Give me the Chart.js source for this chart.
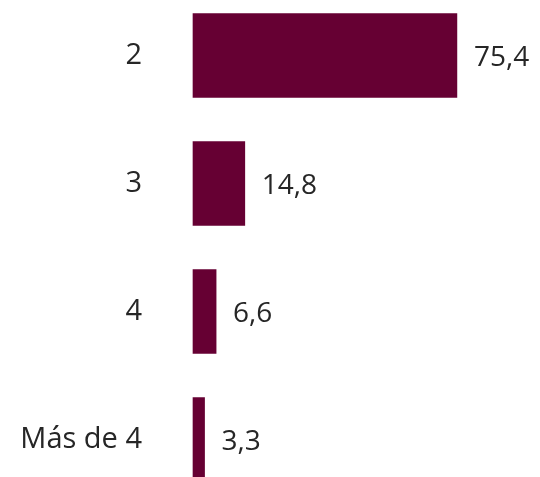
<!DOCTYPE html>
<html>
<head>
<meta charset="utf-8">
<script src="https://cdn.jsdelivr.net/npm/chart.js@4"></script>
<style>
  html, body { margin: 0; padding: 0; background: #fff; }
  #wrap { width: 540px; height: 477px; }
</style>
</head>
<body>
<div id="wrap"><canvas id="chart"></canvas></div>
<script>
// Categories and values
const categories = ['2', '3', '4', 'Más de 4'];
const values = [75.4, 14.8, 6.6, 3.3];

const barColor = '#660033';
const textColor = '#262626';
const fontFamily = '"Open Sans", Lato, sans-serif';

// Draws the value at the end of each bar, with a comma as decimal mark
const valueLabels = {
  id: 'valueLabels',
  afterDatasetsDraw(chart) {
    const ctx = chart.ctx;
    const meta = chart.getDatasetMeta(0);
    ctx.save();
    ctx.font = '28px ' + fontFamily;
    ctx.fillStyle = textColor;
    ctx.textAlign = 'left';
    ctx.textBaseline = 'middle';
    meta.data.forEach(function(bar, i) {
      const text = values[i].toFixed(1).replace('.', ',');
      ctx.fillText(text, bar.x + 17, bar.y + 3);
    });
    ctx.restore();
  }
};

const ctx = document.getElementById('chart').getContext('2d');
const chart = new Chart(ctx, {
  type: 'bar',
  data: {
    labels: categories,
    datasets: [{
      data: values,
      backgroundColor: barColor,
      barThickness: 84,
      clip: false
    }]
  },
  options: {
    indexAxis: 'y',
    responsive: true,
    maintainAspectRatio: false,
    animation: false,
    layout: {
      autoPadding: false,
      padding: { top: 55.5, bottom: 37.5, left: 17, right: 67 }
    },
    plugins: {
      legend: { display: false },
      tooltip: { enabled: false }
    },
    scales: {
      x: {
        min: 0,
        max: 80,
        display: false
      },
      y: {
        offset: false,
        // hidden tick marks only used to push the labels away from the bars
        grid: { display: false, drawTicks: true, tickLength: 47 },
        border: { display: false },
        ticks: {
          color: textColor,
          font: { family: fontFamily, size: 29 },
          padding: 4
        },
        afterFit(scale) { scale.width = 176; }
      }
    }
  },
  plugins: [valueLabels]
});
</script>
</body>
</html>
